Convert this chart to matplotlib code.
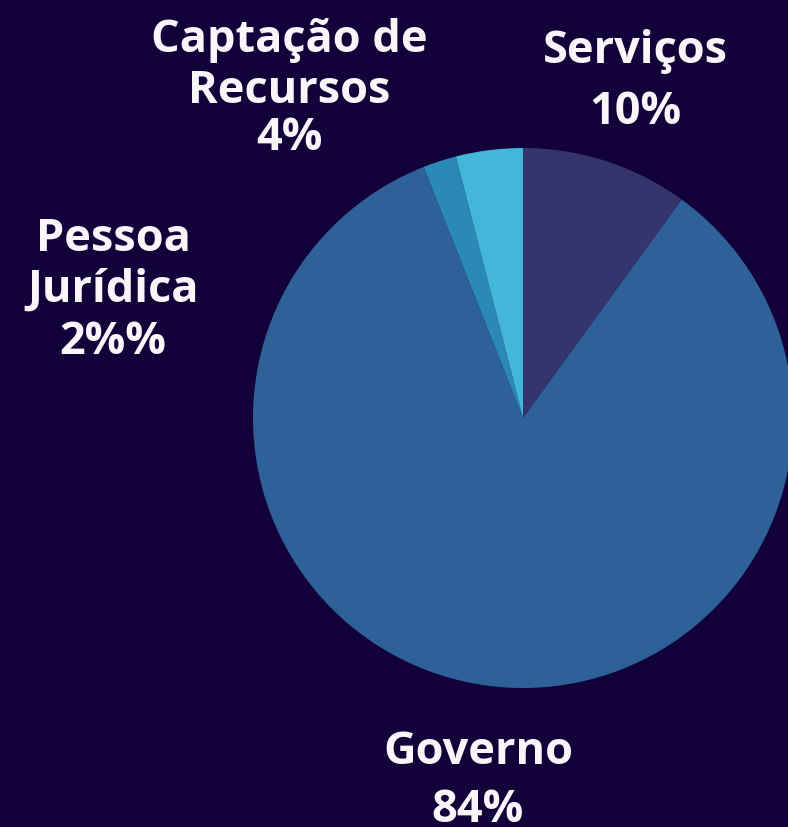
import matplotlib.pyplot as plt

# data
categories = ["Serviços", "Governo", "Pessoa\nJurídica", "Captação de\nRecursos"]
values = [10, 84, 2, 4]
pct_labels = ["10%", "84%", "2%%", "4%"]
colors = ["#33356c", "#2f6199", "#2b89b8", "#43b7d7"]

bg = "#13013a"
H = 827

fig = plt.figure(figsize=(7.88, 8.27), dpi=100)
fig.patch.set_facecolor(bg)
ax = fig.add_axes([0, 0, 1, 1])
ax.set_facecolor(bg)

ax.pie(values, colors=colors, startangle=90, counterclock=False,
       center=(523, H - 418), radius=270, frame=True,
       wedgeprops=dict(linewidth=0))

ax.set_xlim(0, 788)
ax.set_ylim(0, H)
ax.set_aspect("equal")
ax.axis("off")

font = dict(family="Open Sans", weight="bold", color="#f8f6f8",
            fontsize=32.5, ha="center", va="center")


def label(x, y, s, **kw):
    # y given in pixels from the top
    ax.text(x, H - y, s, **font, **kw)


label(635, 52, categories[0])
label(635, 112, pct_labels[0])

label(478, 752, categories[1])
label(478, 810, pct_labels[1])

label(113, 265, categories[2], linespacing=1.15)
label(113, 343, pct_labels[2])

label(289, 66, categories[3], linespacing=1.15)
label(289, 139, pct_labels[3])

fig.savefig("out.png", dpi=100, facecolor=bg)
